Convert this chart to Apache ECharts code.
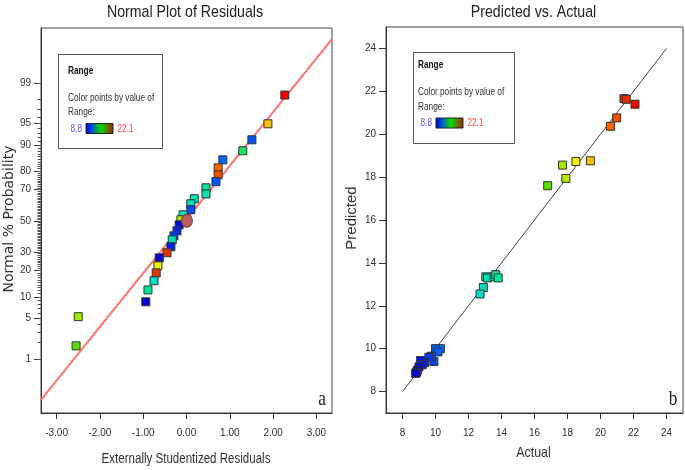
<!DOCTYPE html>
<html>
<head>
<meta charset="utf-8">
<script src="https://cdn.jsdelivr.net/npm/echarts@6.0.0/dist/echarts.min.js"></script>
<style>
html,body{margin:0;padding:0;background:#fff;}
#chart{width:685px;height:470px;}
</style>
</head>
<body>
<div id="chart"></div>
<script>
// ---------- Data ----------
// Left panel: normal probability plot of residuals
const normalResid = [2.27, 1.88, 1.51, 1.30, 0.84, 0.73, 0.73, 0.68, 0.45, 0.45, 0.18, 0.10, 0.10, -0.08, -0.13, -0.17, -0.22, -0.29, -0.33, -0.36, -0.45, -0.63, -0.66, -0.70, -0.75, -0.89, -0.94, -2.50, -2.55];
const normalProb  = [98.3, 94.9, 91.4, 88.1, 84.8, 81.4, 78.1, 74.5, 71.1, 67.5, 64.5, 61.3, 57.4, 54.0, 50.7, 47.3, 43.3, 40.0, 37.4, 33.1, 29.5, 26.6, 22.4, 19.0, 15.6, 12.2, 8.6, 5.3, 1.75];
const normalRange = [22.1, 19.4, 10.0, 15.0, 10.2, 20.6, 21.0, 10.0, 13.6, 13.3, 13.5, 13.0, 9.9, 13.1, 17.8, 9.0, 9.4, 9.7, 12.9, 9.3, 21.5, 8.9, 18.5, 21.5, 12.7, 13.8, 8.8, 17.7, 16.8];
const highlightResid = [0.01];
const highlightProb  = [50.0];
const refLineResid = [-3.36, 3.36];
const refLineProb  = [0.127, 99.89];
const residTicks = [-3, -2, -1, 0, 1, 2, 3];
const probTicks  = [1, 5, 10, 20, 30, 50, 70, 80, 90, 95, 99];

// Right panel: predicted vs actual
const actual    = [21.42, 21.56, 22.09, 20.98, 20.60, 19.39, 18.51, 17.70, 17.90, 16.80,
                   13.05, 13.15, 13.55, 13.65, 13.80, 12.90, 12.70,
                   10.30, 10.00, 10.15, 9.90, 9.75, 9.60, 9.35, 9.10, 9.20, 9.00, 8.90, 8.85, 8.80];
const predicted = [21.66, 21.63, 21.40, 20.76, 20.37, 18.76, 18.73, 18.56, 17.94, 17.60,
                   13.35, 13.30, 13.35, 13.45, 13.30, 12.85, 12.55,
                   10.00, 10.00, 9.85, 9.40, 9.65, 9.60, 9.35, 9.45, 9.25, 9.15, 9.00, 8.90, 8.85];
const refActual    = [8, 24];
const refPredicted = [8, 24];
const actualTicks  = [8, 10, 12, 14, 16, 18, 20, 22, 24];
const rangeMin = 8.8, rangeMax = 22.1;

// ---------- Helpers ----------
function probit(p){
  const a=[-3.969683028665376e+01,2.209460984245205e+02,-2.759285104469687e+02,1.383577518672690e+02,-3.066479806614716e+01,2.506628277459239e+00];
  const b=[-5.447609879822406e+01,1.615858368580409e+02,-1.556989798598866e+02,6.680131188771972e+01,-1.328068155288572e+01];
  const c=[-7.784894002430293e-03,-3.223964580411365e-01,-2.400758277161838e+00,-2.549732539343734e+00,4.374664141464968e+00,2.938163982698783e+00];
  const d=[7.784695709041462e-03,3.224671290700398e-01,2.445134137142996e+00,3.754408661907416e+00];
  const pl=0.02425, ph=1-pl; let q,r;
  if(p<pl){q=Math.sqrt(-2*Math.log(p));return (((((c[0]*q+c[1])*q+c[2])*q+c[3])*q+c[4])*q+c[5])/((((d[0]*q+d[1])*q+d[2])*q+d[3])*q+1);}
  if(p<=ph){q=p-0.5;r=q*q;return (((((a[0]*r+a[1])*r+a[2])*r+a[3])*r+a[4])*r+a[5])*q/(((((b[0]*r+b[1])*r+b[2])*r+b[3])*r+b[4])*r+1);}
  q=Math.sqrt(-2*Math.log(1-p));return -(((((c[0]*q+c[1])*q+c[2])*q+c[3])*q+c[4])*q+c[5])/((((d[0]*q+d[1])*q+d[2])*q+d[3])*q+1);
}
const colorStops = [[8.8,[0,0,210]],[9.6,[0,55,245]],[10.3,[0,105,255]],[12.7,[0,220,200]],[14,[0,232,150]],[16.8,[85,224,0]],[17.8,[170,232,0]],[18.5,[240,240,0]],[19.4,[250,195,0]],[20.6,[255,100,0]],[21.5,[225,50,0]],[22.1,[240,0,0]]];
function colorFor(v){
  if(v<=colorStops[0][0]) return 'rgb('+colorStops[0][1].join(',')+')';
  for(let i=1;i<colorStops.length;i++){
    if(v<=colorStops[i][0]){
      const t=(v-colorStops[i-1][0])/(colorStops[i][0]-colorStops[i-1][0]);
      const c0=colorStops[i-1][1], c1=colorStops[i][1];
      return 'rgb('+[0,1,2].map(k=>Math.round(c0[k]+(c1[k]-c0[k])*t)).join(',')+')';
    }
  }
  return 'rgb('+colorStops[colorStops.length-1][1].join(',')+')';
}
const majorZ = probTicks.map(p=>probit(p/100));
const minorZ = [];
for(let p=1;p<=99;p++){ minorZ.push(probit(p/100)); }

const FONT = 'Liberation Sans';
const SQ = 0.825;
function txt(x,y,text,opt){
  opt=opt||{};
  return {type:'text', x:x, y:y, scaleX:opt.scaleX===undefined?SQ:opt.scaleX, rotation:opt.rotation||0, z:100,
    style:{text:text, fill:opt.fill||'#222', fontSize:opt.size||10, fontFamily:opt.family||FONT, fontWeight:opt.weight||'normal',
      align:opt.align||'left', verticalAlign:'middle', textAlign:opt.align||'left', textVerticalAlign:'middle'}};
}
function legendBox(x0,y0,x1,y1,tx,ty){
  const els=[];
  els.push({type:'rect', shape:{x:x0+0.5,y:y0+0.5,width:x1-x0,height:y1-y0}, style:{fill:'#fff',stroke:'#555',lineWidth:1}, z:90});
  els.push(txt(tx,ty,'Range',{weight:'bold',size:10,fill:'#111'}));
  els.push(txt(tx,ty+27,'Color points by value of',{size:10,fill:'#333'}));
  els.push(txt(tx,ty+41.5,'Range:',{size:10,fill:'#333'}));
  els.push(txt(tx+2.5,ty+58,rangeMin.toFixed(1),{size:10,fill:'#5858ff'}));
  els.push({type:'rect', shape:{x:tx+18,y:ty+52.5,width:27,height:10},
    style:{fill:{type:'linear',x:0,y:0,x2:1,y2:0,colorStops:[{offset:0,color:'#0000a8'},{offset:0.15,color:'#0030ff'},{offset:0.55,color:'#00e000'},{offset:1,color:'#b01800'}]},stroke:'#222',lineWidth:1}, z:95});
  els.push(txt(tx+49.5,ty+58,rangeMax.toFixed(1),{size:10,fill:'#ff4848'}));
  return els;
}

const axisLabelStyle = {color:'#333', fontSize:10, fontFamily:FONT};
const axisLineStyle = {color:'#333', width:1};

const option = {
  animation:false,
  backgroundColor:'#fff',
  grid:[
    {left:41, top:28, width:291, height:385, show:true, borderColor:'#444', borderWidth:1},
    {left:386, top:27, width:297, height:386, show:true, borderColor:'#444', borderWidth:1}
  ],
  xAxis:[
    {gridIndex:0, type:'value', min:-3.36, max:3.36,
      axisLine:{show:true, onZero:false, lineStyle:axisLineStyle},
      axisTick:{show:true, length:6, customValues:residTicks, lineStyle:axisLineStyle},
      axisLabel:{customValues:residTicks, formatter:v=>v.toFixed(2), margin:15, ...axisLabelStyle},
      splitLine:{show:false}},
    {gridIndex:1, type:'value', min:7, max:25,
      axisLine:{show:true, onZero:false, lineStyle:axisLineStyle},
      axisTick:{show:true, length:6, customValues:actualTicks, lineStyle:axisLineStyle},
      axisLabel:{customValues:actualTicks, formatter:v=>String(v), margin:15, ...axisLabelStyle},
      splitLine:{show:false}}
  ],
  yAxis:[
    {gridIndex:0, type:'value', position:'left', min:-3.24, max:3.25,
      axisLine:{show:true, onZero:false, lineStyle:axisLineStyle},
      axisTick:{show:true, length:7, customValues:majorZ, lineStyle:axisLineStyle},
      axisLabel:{customValues:majorZ, margin:10, ...axisLabelStyle,
        formatter:function(v){ for(let i=0;i<majorZ.length;i++){ if(Math.abs(majorZ[i]-v)<1e-6) return String(probTicks[i]); } return ''; }},
      splitLine:{show:false}},
    {gridIndex:0, type:'value', position:'left', min:-3.24, max:3.25,
      axisLine:{show:false, onZero:false},
      axisTick:{show:true, length:3.5, customValues:minorZ, lineStyle:{color:'#555',width:1}},
      axisLabel:{show:false},
      splitLine:{show:false}},
    {gridIndex:1, type:'value', position:'left', min:7, max:25,
      axisLine:{show:true, onZero:false, lineStyle:axisLineStyle},
      axisTick:{show:true, length:7, customValues:actualTicks, lineStyle:axisLineStyle},
      axisLabel:{customValues:actualTicks, formatter:v=>String(v), margin:10, ...axisLabelStyle},
      splitLine:{show:false}}
  ],
  series:[
    {type:'line', xAxisIndex:0, yAxisIndex:0, symbol:'none', silent:true, z:1,
      data:refLineResid.map((x,i)=>[x, probit(refLineProb[i]/100)]),
      lineStyle:{color:'#ff7878', width:2.2}},
    {type:'scatter', xAxisIndex:0, yAxisIndex:0, symbol:'rect', symbolSize:8, z:3,
      data:normalResid.map((x,i)=>[x, probit(normalProb[i]/100), normalRange[i]]),
      itemStyle:{color:p=>colorFor(p.value[2]), borderColor:'#333', borderWidth:1, opacity:1}},
    {type:'scatter', xAxisIndex:0, yAxisIndex:0, symbol:'circle', symbolSize:[11,13], z:4,
      data:highlightResid.map((x,i)=>[x, probit(highlightProb[i]/100)]),
      itemStyle:{color:'#b86060', borderColor:'#7a3a3a', borderWidth:1, opacity:1}},
    {type:'line', xAxisIndex:1, yAxisIndex:2, symbol:'none', silent:true, z:1,
      data:refActual.map((x,i)=>[x, refPredicted[i]]),
      lineStyle:{color:'#444', width:1}},
    {type:'scatter', xAxisIndex:1, yAxisIndex:2, symbol:'rect', symbolSize:8, z:3,
      data:actual.map((x,i)=>[x, predicted[i]]),
      itemStyle:{color:p=>colorFor(p.value[0]), borderColor:'#333', borderWidth:1, opacity:1}}
  ],
  graphic:[
    txt(185,12,'Normal Plot of Residuals',{size:17,align:'center',fill:'#222',scaleX:0.835}),
    txt(533.5,12,'Predicted vs. Actual',{size:17,align:'center',fill:'#222',scaleX:0.835}),
    txt(186,459,'Externally Studentized Residuals',{size:14,align:'center',fill:'#333'}),
    txt(533.5,453,'Actual',{size:15,align:'center',fill:'#333'}),
    txt(9.5,219,'Normal % Probability',{size:14,align:'center',fill:'#333',family:'DejaVu Sans',scaleX:1,rotation:Math.PI/2}),
    txt(352,218,'Predicted',{size:15,align:'center',fill:'#333',scaleX:1,rotation:Math.PI/2}),
    txt(322,399,'a',{size:21,align:'center',fill:'#222',family:'Liberation Serif'}),
    txt(673,399,'b',{size:21,align:'center',fill:'#222',family:'Liberation Serif'}),
    ...legendBox(58,54,162,148,68,71),
    ...legendBox(413,52,514,143,418,65.5)
  ]
};
const chart = echarts.init(document.getElementById('chart'), null, {renderer:'canvas'});
chart.setOption(option);
</script>
</body>
</html>
